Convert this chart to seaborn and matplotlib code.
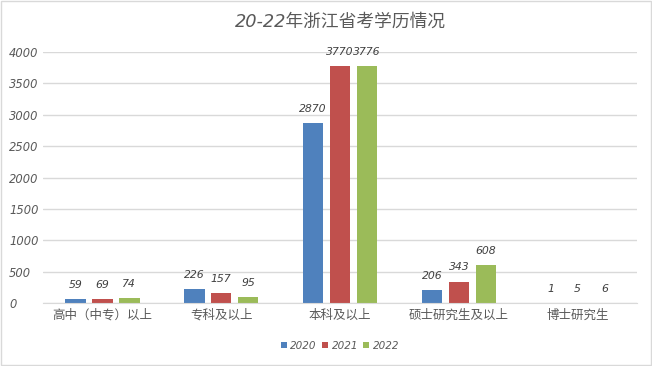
import pandas as pd
import numpy as np
from matplotlib import pyplot as plt
import seaborn as sns

sns.set_style("white")
plt.rcParams['font.family'] = ['DejaVu Sans', 'Noto Sans CJK SC']
plt.rcParams['axes.unicode_minus'] = False

categories = ["高中（中专）以上", "专科及以上", "本科及以上", "硕士研究生及以上", "博士研究生"]
years = ["2020", "2021", "2022"]
v2020 = [59, 226, 2870, 206, 1]
v2021 = [69, 157, 3770, 343, 5]
v2022 = [74, 95, 3776, 608, 6]
colors = ["#4F81BD", "#C0504D", "#9BBB59"]
yticks = [0, 500, 1000, 1500, 2000, 2500, 3000, 3500, 4000]

df = pd.DataFrame({
    "cat": categories * 3,
    "year": [y for y in years for _ in categories],
    "val": v2020 + v2021 + v2022,
})

textc = "#595959"
fig = plt.figure(figsize=(6.52, 3.66), dpi=100)
ax = fig.add_axes([0.066, 0.172, 0.911, 0.686])
sns.barplot(data=df, x="cat", y="val", hue="year", order=categories,
            hue_order=years, palette=colors, width=0.68, gap=0.24,
            saturation=1, linewidth=0, ax=ax, legend=True)

for cont in ax.containers:
    ax.bar_label(cont, labels=[f"{int(v)}" for v in cont.datavalues],
                 padding=6.5, fontsize=7.8, style="italic", color="#404040")

ax.set_ylim(0, 4000)
ax.set_yticks(yticks)
ax.set_yticklabels([str(t) for t in yticks], fontsize=8.3, style="italic", color=textc)
ax.set_xlim(-0.5, 4.5)
ax.set_xlabel("")
ax.set_ylabel("")
ax.tick_params(axis="x", labelsize=9, colors=textc, length=0, pad=4)
ax.tick_params(axis="y", length=0, pad=24.5)
for lab in ax.get_yticklabels():
    lab.set_horizontalalignment("left")
ax.yaxis.grid(True, color="#D9D9D9", linewidth=1)
ax.set_axisbelow(True)
for s in ["top", "right", "left"]:
    ax.spines[s].set_visible(False)
ax.spines["bottom"].set_color("#D9D9D9")

ax.set_title("20-22年浙江省考学历情况", fontsize=12.8, style="italic", color=textc, pad=18)

leg = ax.legend(loc="center", bbox_to_anchor=(0.5, -0.17), ncol=3, frameon=False,
                handlelength=0.6, handleheight=0.6, handletextpad=0.3, columnspacing=0.5,
                prop={"size": 7.5, "style": "italic"})
for t in leg.get_texts():
    t.set_color(textc)

fig.patches.append(plt.Rectangle((0.001, 0.002), 0.997, 0.995, transform=fig.transFigure,
                                 fill=False, edgecolor="#D9D9D9", linewidth=1))
fig.savefig("out.png", dpi=100)
